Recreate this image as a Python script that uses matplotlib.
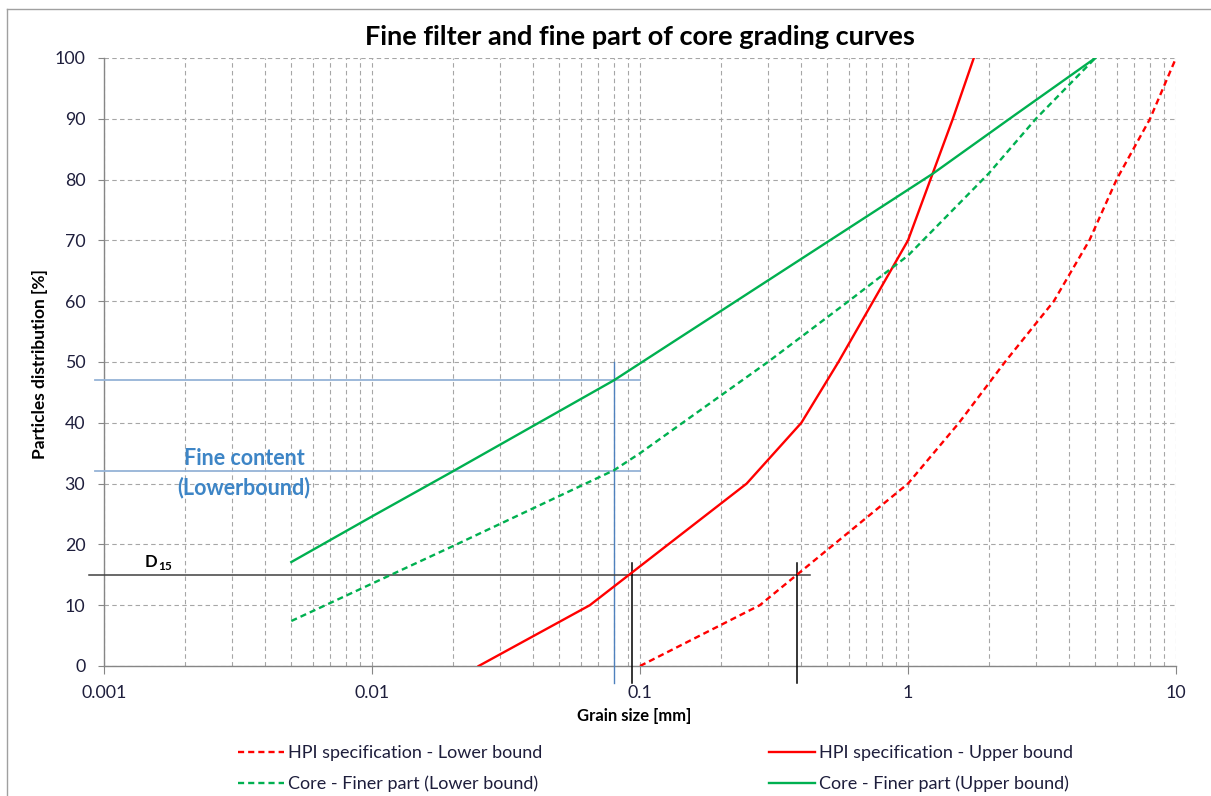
import numpy as np
import matplotlib.pyplot as plt
from matplotlib.lines import Line2D

plt.rcParams['font.family'] = ['Lato', 'DejaVu Sans']

# grading curves, grain size [mm] vs passing [%]
hpi_lower_x = [0.1, 0.28, 1.0, 1.55, 2.3, 3.5, 4.75, 6.0, 8.0, 10.0]
hpi_lower_y = [0, 10, 30, 40, 50, 60, 70, 80, 90, 100]

hpi_upper_x = [0.025, 0.065, 0.25, 0.4, 0.55, 1.0, 1.47, 1.76]
hpi_upper_y = [0, 10, 30, 40, 50, 70, 90, 100]

core_lower_x = [0.005, 0.02, 0.08, 0.1, 0.3, 0.6, 1.0, 2.0, 3.0, 5.0]
core_lower_y = [7.4, 19.7, 32.2, 35, 50, 60, 67.5, 81, 90, 100]

core_upper_x = [0.005, 0.01, 0.02, 0.08, 0.3, 1.24, 2.5, 5.0]
core_upper_y = [17.1, 24.6, 32, 47, 63.4, 81, 90.6, 100]

# fine content reading at 0.08 mm, D15 readings
fine_size = 0.08
fine_upper = 47
fine_lower = 32
d15 = 15
d15_sizes = [0.093, 0.385]

x_ticks = [0.001, 0.01, 0.1, 1, 10]
x_ticklabels = ['0.001', '0.01', '0.1', '1', '10']

W, H = 1211, 796
fig = plt.figure(figsize=(W / 100, H / 100), dpi=100)
ax = fig.add_axes([104 / W, 1 - 666 / H, (1176 - 104) / W, (666 - 58) / H])

red = '#FF0000'
green = '#00B050'
dash = (0, (2.6, 1.7))

ax.plot(hpi_lower_x, hpi_lower_y, color=red, lw=1.7, linestyle=dash, zorder=5)
ax.plot(hpi_upper_x, hpi_upper_y, color=red, lw=1.7, zorder=5)
ax.plot(core_lower_x, core_lower_y, color=green, lw=1.7, linestyle=dash, zorder=5)
ax.plot(core_upper_x, core_upper_y, color=green, lw=1.7, zorder=5)

ax.set_xscale('log')
ax.set_xlim(0.001, 10)
ax.set_ylim(0, 100)

# helper lines
x_left = 10 ** (-3 - 9 / 268)
ax.plot([x_left, 0.1], [fine_upper, fine_upper], color='#95B3D7', lw=1.3, clip_on=False, zorder=4)
ax.plot([x_left, 0.1], [fine_lower, fine_lower], color='#95B3D7', lw=1.3, clip_on=False, zorder=4)
ax.plot([fine_size, fine_size], [-2.8, 50], color='#4F81BD', lw=1.0, clip_on=False, zorder=4)
x_left2 = 10 ** (-3 - 15 / 268)
ax.plot([x_left2, 0.43], [d15, d15], color='#404040', lw=1.1, clip_on=False, zorder=4)
for xs in d15_sizes:
    ax.plot([xs, xs], [-2.8, 17], color='black', lw=1.1, clip_on=False, zorder=4)

ax.text(0.00333, 34.2, 'Fine content', color='#3D85C6', fontsize=15.5,
        fontweight='bold', ha='center', va='center')
ax.text(0.00333, 29.4, '(Lowerbound)', color='#3D85C6', fontsize=15.5,
        fontweight='bold', ha='center', va='center')
ax.text(0.00142, 17.1, 'D', fontsize=12, fontweight='bold', ha='left', va='center')
ax.text(0.00159, 16.4, '15', fontsize=8.5, fontweight='bold', ha='left', va='center')

# grid and axes styling
ax.set_xticks(x_ticks)
ax.set_xticklabels(x_ticklabels)
ax.set_yticks(np.arange(0, 101, 10))
ax.xaxis.set_minor_locator(plt.LogLocator(base=10, subs=np.arange(2, 10)))
ax.xaxis.set_minor_formatter(plt.NullFormatter())
ax.grid(True, which='both', axis='x', color='#A6A6A6', lw=0.8, linestyle=(0, (4, 3)))
ax.grid(True, which='major', axis='y', color='#A6A6A6', lw=0.8, linestyle=(0, (4, 3)))
for s in ['top', 'right']:
    ax.spines[s].set_visible(False)
for s in ['left', 'bottom']:
    ax.spines[s].set_color('#868686')
    ax.spines[s].set_linewidth(1.0)
ax.tick_params(axis='x', which='major', length=5.5, color='#868686', pad=8,
               labelsize=12.8, labelcolor='#1E1E3C')
ax.tick_params(axis='x', which='minor', length=0)
ax.tick_params(axis='y', length=4.5, color='#868686', pad=9,
               labelsize=12.8, labelcolor='#1E1E3C')

fig.text(640 / W, 1 - 37 / H, 'Fine filter and fine part of core grading curves',
         fontsize=19.5, fontweight='bold', ha='center', va='center')
fig.text(634 / W, 1 - 716 / H, 'Grain size [mm]', fontsize=12,
         fontweight='bold', ha='center', va='center')
fig.text(40 / W, 1 - 364 / H, 'Particles distribution [%]', fontsize=12.5,
         fontweight='bold', ha='center', va='center', rotation=90)

# legend in two columns
h1 = [Line2D([], [], color=red, lw=1.7, linestyle=dash),
      Line2D([], [], color=green, lw=1.7, linestyle=dash)]
l1 = ['HPI specification - Lower bound', 'Core - Finer part (Lower bound)']
h2 = [Line2D([], [], color=red, lw=1.7),
      Line2D([], [], color=green, lw=1.7)]
l2 = ['HPI specification - Upper bound', 'Core - Finer part (Upper bound)']
for hh, ll, x0 in [(h1, l1, 229), (h2, l2, 760)]:
    leg = fig.legend(hh, ll, loc='center left', bbox_to_anchor=(x0 / W, 1 - 768.5 / H),
                     frameon=False, fontsize=13, borderpad=0, handlelength=2.55,
                     handletextpad=0.2, labelspacing=0.78)
    for t in leg.get_texts():
        t.set_color('#1E1E3C')

# outer border
fig.add_artist(Line2D([7 / W, 7 / W], [0, 1 - 9 / H], color='#A0A0A0', lw=1.0))
fig.add_artist(Line2D([7 / W, 1], [1 - 9 / H, 1 - 9 / H], color='#A0A0A0', lw=1.0))

fig.savefig('out.png', dpi=100)
